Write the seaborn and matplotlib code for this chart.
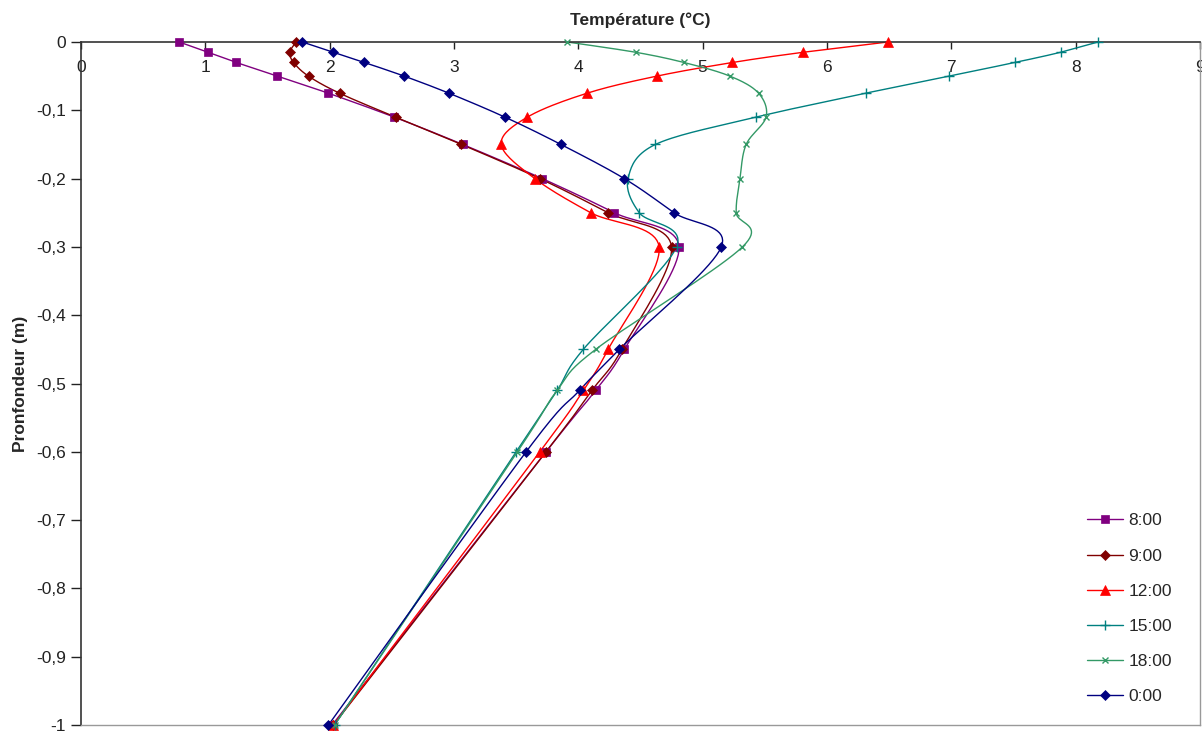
import numpy as np
import seaborn as sns
import matplotlib.pyplot as plt
from matplotlib.lines import Line2D

# Profondeurs des capteurs (m)
profondeur = [0, -0.015, -0.03, -0.05, -0.075, -0.11, -0.15, -0.2, -0.25, -0.3, -0.45, -0.51, -0.6, -1.0]

# Températures (°C)
t_0800 = [0.79, 1.02, 1.25, 1.58, 1.99, 2.52, 3.07, 3.71, 4.29, 4.81, 4.37, 4.14, 3.74, 2.02]
t_0900 = [1.73, 1.68, 1.71, 1.83, 2.08, 2.53, 3.06, 3.69, 4.24, 4.75, 4.35, 4.11, 3.74, 2.03]
t_1200 = [6.49, 5.81, 5.24, 4.63, 4.07, 3.59, 3.38, 3.65, 4.10, 4.65, 4.24, 4.04, 3.69, 2.03]
t_1500 = [8.18, 7.88, 7.51, 6.98, 6.31, 5.43, 4.62, 4.40, 4.49, 4.79, 4.04, 3.83, 3.50, 2.04]
t_1800 = [3.91, 4.46, 4.85, 5.22, 5.45, 5.51, 5.35, 5.30, 5.27, 5.32, 4.14, 3.83, 3.51, 2.04]
t_0000 = [1.78, 2.03, 2.28, 2.60, 2.96, 3.41, 3.86, 4.37, 4.77, 5.15, 4.33, 4.01, 3.58, 1.99]

heures = ["8:00", "9:00", "12:00", "15:00", "18:00", "0:00"]
series = [t_0800, t_0900, t_1200, t_1500, t_1800, t_0000]
couleurs = ["#800080", "#800000", "#FF0000", "#008080", "#339966", "#000080"]
marqueurs = ["s", "D", "^", "+", "x", "D"]
tailles = [6, 5, 7, 7, 5, 5]


def lisser(x, y, n=20):
    # courbe lissée façon Excel (Bezier / Catmull-Rom)
    p = np.column_stack([np.asarray(x) * 124.4, np.asarray(y) * 683])
    p = np.vstack([p[0], p, p[-1]])
    t = np.linspace(0, 1, n)[:, None]
    morceaux = []
    for i in range(1, len(p) - 2):
        p0, p1, p2, p3 = p[i - 1], p[i], p[i + 1], p[i + 2]
        c1 = p1 + (p2 - p0) / 6
        c2 = p2 - (p3 - p1) / 6
        b = (1 - t) ** 3 * p1 + 3 * (1 - t) ** 2 * t * c1 + 3 * (1 - t) * t ** 2 * c2 + t ** 3 * p2
        morceaux.append(b)
    pts = np.vstack(morceaux)
    return pts[:, 0] / 124.4, pts[:, 1] / 683


sns.set_style("white")
plt.rcParams["font.family"] = ["Liberation Sans", "DejaVu Sans"]

fig = plt.figure(figsize=(12.02, 7.33), dpi=100)
ax = fig.add_axes([0.0674, 0.0109, 0.9309, 0.9318])

for temp, c, m, ms in zip(series, couleurs, marqueurs, tailles):
    xs, ys = lisser(temp, profondeur)
    sns.lineplot(x=xs, y=ys, sort=False, estimator=None, color=c, linewidth=1.0, ax=ax)
    ax.plot(temp, profondeur, linestyle="none", marker=m, color=c, markersize=ms,
            markeredgewidth=1.0 if m in "+x" else 0.5, clip_on=False, zorder=3)
for line in ax.lines:
    line.set_clip_on(False)

ax.set_xlim(0, 9)
ax.set_ylim(-1, 0)
ax.set_xticks(range(10))
ax.set_yticks(np.round(np.arange(0, -1.05, -0.1), 1))
ax.set_yticklabels(["0"] + [f"-0,{i}" for i in range(1, 10)] + ["-1"])

ax.tick_params(axis="x", top=True, bottom=False, labeltop=True, labelbottom=False,
               direction="in", length=5, width=1, pad=-24, labelsize=12.5, colors="#222222")
ax.tick_params(axis="y", left=True, direction="out", length=7, width=1, pad=4,
               labelsize=12.5, colors="#222222")

for s in ["top", "left"]:
    ax.spines[s].set_color("#333333")
    ax.spines[s].set_linewidth(1.2)
for s in ["right", "bottom"]:
    ax.spines[s].set_color("#999999")
    ax.spines[s].set_linewidth(1.0)

ax.xaxis.set_label_position("top")
ax.set_xlabel("Température (°C)", fontsize=12.5, fontweight="bold", labelpad=12)
ax.set_ylabel("Pronfondeur (m)", fontsize=12.5, fontweight="bold", labelpad=6)

poignees = [Line2D([0], [0], color=c, marker=m, markersize=ms, linewidth=1.0,
                   markeredgewidth=1.0 if m in "+x" else 0.5)
            for c, m, ms in zip(couleurs, marqueurs, tailles)]
ax.legend(poignees, heures, loc="lower right", bbox_to_anchor=(1.0, -0.01), frameon=False,
          fontsize=12.5, labelspacing=1.15, handlelength=2.1, handletextpad=0.3,
          borderaxespad=1.2)

plt.savefig("out.png", dpi=100)
